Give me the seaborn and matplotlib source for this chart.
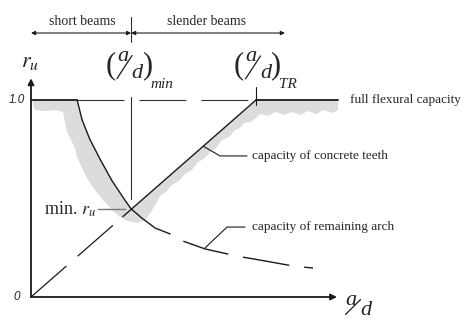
import numpy as np
import matplotlib
matplotlib.use("Agg")
import matplotlib.pyplot as plt
import seaborn as sns

# values (x = a/d, y = r_u)
ad_min = 2.67
ad_tr = 6.0
x_end = 8.19

# capacity of remaining arch
arch_x = [1.23, 1.36, 1.57, 1.84, 2.16, 2.51, 2.67, 2.96, 3.31, 3.71]
arch_y = [1.0, 0.90, 0.80, 0.70, 0.59, 0.49, 0.447, 0.40, 0.35, 0.32]
arch_tail_x = [3.71, 4.05, 4.64, 5.25, 5.63, 6.24, 6.85, 7.25, 7.52]
arch_tail_y = [0.32, 0.284, 0.244, 0.218, 0.203, 0.183, 0.162, 0.152, 0.147]

# capacity of concrete teeth
teeth_x = [0.0, 2.45, 6.0]
teeth_y = [0.0, 0.408, 1.0]

# grey valley band (upper edge follows the envelope, lower edge is rough)
band_top_x = [0.05, 1.23, 1.36, 1.57, 1.84, 2.16, 2.51, 2.67, 6.0, 8.19]
band_top_y = [1.0, 1.0, 0.90, 0.80, 0.70, 0.59, 0.49, 0.445, 1.0, 1.0]
band_bot_x = [0.05, 0.107, 0.373, 0.64, 0.853, 0.907, 0.96, 1.067, 1.173, 1.227,
              1.36, 1.52, 1.707, 1.92, 2.16, 2.373, 2.587, 2.827, 3.04, 3.2,
              3.333, 3.44, 3.6, 3.76, 3.947, 4.107, 4.293, 4.453, 4.64, 4.773,
              4.933, 5.093, 5.28, 5.413, 5.573, 5.68, 5.84, 5.973, 6.107, 6.32,
              6.533, 6.747, 6.96, 7.173, 7.387, 7.6, 7.813, 8.027, 8.187, 8.19]
band_bot_y = [0.98, 0.949, 0.944, 0.949, 0.939, 0.888, 0.838, 0.797, 0.756, 0.711,
              0.655, 0.594, 0.543, 0.492, 0.442, 0.406, 0.386, 0.376, 0.391, 0.431,
              0.472, 0.513, 0.533, 0.569, 0.589, 0.624, 0.645, 0.685, 0.706, 0.736,
              0.756, 0.797, 0.812, 0.843, 0.858, 0.883, 0.888, 0.904, 0.929, 0.919,
              0.939, 0.924, 0.939, 0.924, 0.944, 0.929, 0.949, 0.934, 0.949, 0.995]

sns.set_theme(style="white")
plt.rcParams["font.family"] = ["Liberation Serif", "DejaVu Serif"]
plt.rcParams["mathtext.fontset"] = "stix"
plt.rcParams["lines.scale_dashes"] = False

dash = (0, (33.8, 10.8))
PX = 1 / 37.5   # data units per pixel, x
PY = 1 / 197.0  # data units per pixel, y

fig = plt.figure(figsize=(4.68, 3.2), dpi=100)
ax = fig.add_axes([0, 0, 1, 1])
ax.set_xlim(-0.827, 11.653)
ax.set_ylim(-0.1168, 1.5076)
ax.axis("off")


# slanted fraction a/d, optionally in brackets with a subscript
def ad_label(x0, y0, sub=None, size=16, vs=1.0):
    ax.text(x0 + 11 * PX, y0 + 9 * vs * PY, "a", style="italic", fontsize=size, ha="center", va="center")
    ax.plot([x0 + 5.5 * PX, x0 + 20.5 * PX], [y0 - 13 * vs * PY, y0 + 10 * vs * PY], color="k", lw=0.9)
    ax.text(x0 + 25.5 * PX, y0 - 7.5 * vs * PY, "d", style="italic", fontsize=size, ha="center", va="center")
    if sub is not None:
        ax.text(x0 - 1 * PX, y0, "(", fontsize=size + 6, ha="center", va="center")
        ax.text(x0 + 35.5 * PX, y0, ")", fontsize=size + 6, ha="center", va="center")
        ax.text(x0 + 39 * PX, y0 - 19 * PY, sub, style="italic", fontsize=11, ha="left", va="center")


# grey band
poly_x = band_top_x + band_bot_x[::-1]
poly_y = band_top_y + band_bot_y[::-1]
ax.fill(poly_x, poly_y, color="#dcdcdc", lw=0, zorder=1)

# axes with arrows
ax.annotate("", xy=(8.16, 0), xytext=(0, 0),
            arrowprops=dict(arrowstyle="-|>", lw=1.3, color="k", mutation_scale=9, shrinkA=0, shrinkB=0))
ax.annotate("", xy=(0, 1.11), xytext=(0, 0),
            arrowprops=dict(arrowstyle="-|>", lw=1.3, color="k", mutation_scale=9, shrinkA=0, shrinkB=0))

# full flexural capacity
ax.plot([0, arch_x[0]], [1, 1], color="k", lw=1.3, zorder=3)
ax.plot([arch_x[0], ad_tr], [1, 1], color="#333333", lw=0.8, linestyle=dash, zorder=3)
ax.plot([ad_tr, x_end], [1, 1], color="k", lw=1.3, zorder=3)

# arch and teeth curves
sns.lineplot(x=arch_x, y=arch_y, ax=ax, color="k", lw=1.0, sort=False, zorder=4)
sns.lineplot(x=arch_tail_x, y=arch_tail_y, ax=ax, color="k", lw=1.0, sort=False,
             linestyle=(33.8, (33.8, 10.8)), zorder=4)
sns.lineplot(x=teeth_x[:2], y=teeth_y[:2], ax=ax, color="k", lw=0.9, sort=False,
             linestyle=dash, zorder=4)
sns.lineplot(x=teeth_x[1:], y=teeth_y[1:], ax=ax, color="k", lw=1.0, sort=False, zorder=4)

# vertical markers
ax.plot([ad_min, ad_min], [0.497, 1.015], color="#333333", lw=0.8, zorder=3)
ax.plot([ad_min, ad_min], [1.294, 1.421], color="#333333", lw=0.8, zorder=3)
ax.plot([ad_tr, ad_tr], [0.975, 1.066], color="k", lw=0.8, zorder=3)

# beam type dimension lines
arr = dict(arrowstyle="<|-|>", lw=0.8, color="k", mutation_scale=6, shrinkA=0, shrinkB=0)
ax.annotate("", xy=(0, 1.34), xytext=(ad_min, 1.34), arrowprops=arr)
ax.annotate("", xy=(ad_min, 1.34), xytext=(6.77, 1.34), arrowprops=arr)
ax.text(1.36, 1.396, "short beams", ha="center", va="center", fontsize=10)
ax.text(4.69, 1.396, "slender beams", ha="center", va="center", fontsize=10)

# a/d labels
ad_label(2.147, 1.175, "min")
ad_label(5.573, 1.173, "TR")
ad_label(8.24, -0.046, vs=0.65)
ax.text(-0.03, 1.19, r"$r_u$", ha="center", va="center", fontsize=16)
ax.text(-0.16, 1.0, "1.0", ha="right", va="center", fontsize=8.5, style="italic",
        family="Liberation Sans")
ax.text(-0.29, 0.0, "0", ha="right", va="center", fontsize=8.5, style="italic",
        family="Liberation Sans")

# annotations
ax.plot([1.787, 2.507], [0.447, 0.447], color="#777777", lw=1.0, zorder=3)
ax.text(1.733, 0.447, r"min. $r_u$", ha="right", va="center", fontsize=13)
ax.plot([4.587, 5.04, 5.76], [0.766, 0.716, 0.716], color="k", lw=0.8)
ax.text(5.893, 0.716, "capacity of concrete teeth", ha="left", va="center", fontsize=9.5)
ax.plot([4.64, 5.227, 5.707], [0.249, 0.355, 0.355], color="k", lw=0.8)
ax.text(5.893, 0.355, "capacity of remaining arch", ha="left", va="center", fontsize=9.5)
ax.text(8.507, 1.0, "full flexural capacity", ha="left", va="center", fontsize=9.5)

fig.savefig("out.png", dpi=100)
